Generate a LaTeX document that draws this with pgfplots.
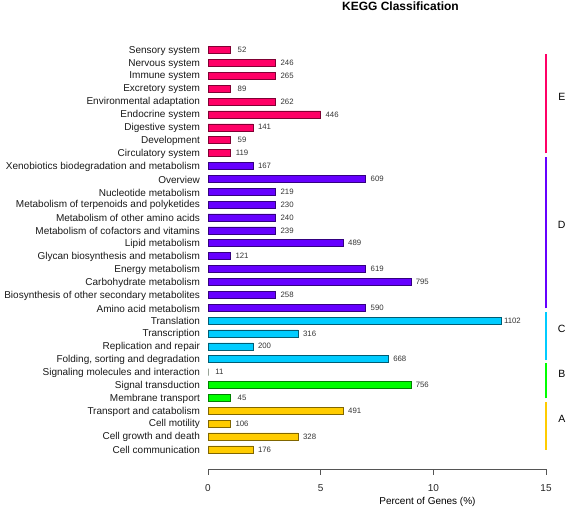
\documentclass[border=0pt]{standalone}
\usepackage{pgfplots}
\usepackage{pgfplotstable}
\pgfplotsset{compat=1.18}
\usepackage{fontspec}
\setmainfont{Liberation Sans}
\definecolor{cE}{HTML}{FF0066}
\definecolor{cD}{HTML}{6600FF}
\definecolor{cC}{HTML}{00CCFF}
\definecolor{cB}{HTML}{00FF00}
\definecolor{cA}{HTML}{FFCC00}
\definecolor{axgray}{HTML}{555555}

\pgfplotstableread{
idx pct cnt
0 2 176
1 4 328
2 1 106
3 6 491
}\tabA
\pgfplotstableread{
idx pct cnt
4 1 45
5 9 756
}\tabB
\pgfplotstableread{
idx pct cnt
6 0 11
}\tabBzero
\pgfplotstableread{
idx pct cnt
7 8 668
8 2 200
9 4 316
10 13 1102
}\tabC
\pgfplotstableread{
idx pct cnt
11 7 590
12 3 258
13 9 795
14 7 619
15 1 121
16 6 489
17 3 239
18 3 240
19 3 230
20 3 219
21 7 609
22 2 167
}\tabD
\pgfplotstableread{
idx pct cnt
23 1 119
24 1 59
25 2 141
26 5 446
27 3 262
28 1 89
29 3 265
30 3 246
31 1 52
}\tabE

\begin{document}
\begin{tikzpicture}
\path[use as bounding box] (0,0) rectangle (567pt,507pt);
\begin{axis}[
  at={(208pt,37.7pt)}, anchor=south west,
  scale only axis, width=338pt, height=427pt,
  xmin=0, xmax=15, ymin=-1.55, ymax=31.6,
  xbar, bar width=7pt, bar shift=0pt,
  clip=false,
  axis x line*=bottom, axis y line*=left,
  x axis line style={-, draw=axgray, line width=0.6pt},
  y axis line style={draw=none},
  xtick={0,5,10,15},
  tick align=outside,
  x tick style={draw=axgray, line width=0.6pt},
  major tick length=5.5pt,
  ytick style={draw=none},
  /pgf/number format/assume math mode=true,
  xticklabel style={font=\fontsize{10}{12}\selectfont, text=black!85, yshift=-6.5pt},
  ytick={0,...,31},
  yticklabels={Cell communication, Cell growth and death, Cell motility, Transport and catabolism, Membrane transport, Signal transduction, Signaling molecules and interaction, {Folding, sorting and degradation}, Replication and repair, Transcription, Translation, Amino acid metabolism, Biosynthesis of other secondary metabolites, Carbohydrate metabolism, Energy metabolism, Glycan biosynthesis and metabolism, Lipid metabolism, Metabolism of cofactors and vitamins, Metabolism of other amino acids, Metabolism of terpenoids and polyketides, Nucleotide metabolism, Overview, Xenobiotics biodegradation and metabolism, Circulatory system, Development, Digestive system, Endocrine system, Environmental adaptation, Excretory system, Immune system, Nervous system, Sensory system},
  yticklabel style={font=\fontsize{10}{12}\selectfont, text=black!90, xshift=1pt, yshift=-0.8pt},
  nodes near coords,
  point meta=explicit symbolic,
  every node near coord/.append style={anchor=center, xshift=11.5pt, font=\fontsize{7.8}{9}\selectfont, text=black!80},
]
\addplot[fill=cA, draw=cA!50!black, line width=0.5pt] table[x=pct, y=idx, meta=cnt]{\tabA};
\addplot[fill=cB, draw=cB!50!black, line width=0.5pt] table[x=pct, y=idx, meta=cnt]{\tabB};
\addplot[fill=cB, draw=black!55, line width=0.6pt] table[x=pct, y=idx, meta=cnt]{\tabBzero};
\addplot[fill=cC, draw=cC!45!black, line width=0.5pt] table[x=pct, y=idx, meta=cnt]{\tabC};
\addplot[fill=cD, draw=cD!50!black, line width=0.5pt] table[x=pct, y=idx, meta=cnt]{\tabD};
\addplot[fill=cE, draw=cE!50!black, line width=0.5pt] table[x=pct, y=idx, meta=cnt]{\tabE};

\draw[cE, line width=2pt] (axis cs:15,22.98) -- (axis cs:15,30.69);
\draw[cD, line width=2pt] (axis cs:15,10.95) -- (axis cs:15,22.69);
\draw[cC, line width=2pt] (axis cs:15,6.93) -- (axis cs:15,10.68);
\draw[cB, line width=2pt] (axis cs:15,3.96) -- (axis cs:15,6.68);
\draw[cA, line width=2pt] (axis cs:15,-0.05) -- (axis cs:15,3.70);

\node[font=\fontsize{10.5}{12}\selectfont] at (axis cs:15.7,27.4) {E};
\node[font=\fontsize{10.5}{12}\selectfont] at (axis cs:15.7,17.4) {D};
\node[font=\fontsize{10.5}{12}\selectfont] at (axis cs:15.7,9.35) {C};
\node[font=\fontsize{10.5}{12}\selectfont] at (axis cs:15.7,5.85) {B};
\node[font=\fontsize{10.5}{12}\selectfont] at (axis cs:15.7,2.35) {A};

\node[font=\bfseries\fontsize{12}{14}\selectfont] at (axis cs:8.54,34.44) {KEGG Classification};
\node[font=\fontsize{10}{12}\selectfont] at (axis cs:9.74,-4.1) {Percent of Genes (\%)};
\end{axis}
\end{tikzpicture}
\end{document}
